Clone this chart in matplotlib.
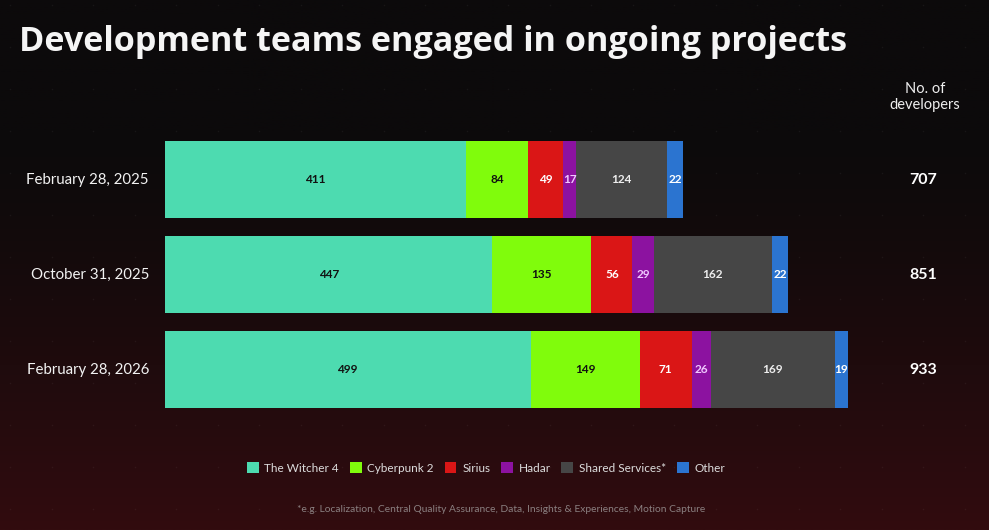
import numpy as np
import matplotlib
matplotlib.use("Agg")
import matplotlib.pyplot as plt
from matplotlib.patches import Patch

plt.rcParams['font.family'] = ['Lato', 'DejaVu Sans']

dates = ["February 28, 2025", "October 31, 2025", "February 28, 2026"]
series = ["The Witcher 4", "Cyberpunk 2", "Sirius", "Hadar", "Shared Services*", "Other"]
witcher4 = [411, 447, 499]
cyberpunk2 = [84, 135, 149]
sirius = [49, 56, 71]
hadar = [17, 29, 26]
shared = [124, 162, 169]
other = [22, 22, 19]
totals = [707, 851, 933]

values = [witcher4, cyberpunk2, sirius, hadar, shared, other]
colors = ["#4ddbb0", "#80fc0c", "#da1616", "#8c12a0", "#464646", "#2b74d0"]
label_colors = ["#111111", "#111111", "#ffffff", "#f0c8ff", "#eeeeee", "#ffffff"]

W, H = 989, 530
fig = plt.figure(figsize=(W / 100, H / 100), dpi=100)

# background gradient
bg = fig.add_axes([0, 0, 1, 1], zorder=-10)
top = np.array([12, 10, 11]) / 255
bot = np.array([50, 12, 15]) / 255
t = np.linspace(0, 1, 256)
w = np.clip((t - 0.25) / 0.75, 0, 1) ** 1.3
grad = (top[None, :] * (1 - w[:, None]) + bot[None, :] * w[:, None])
grad = np.repeat(grad[:, None, :], 2, axis=1)
bg.imshow(grad, aspect='auto', extent=[0, W, H, 0])
gx, gy = np.meshgrid(np.arange(10, W, 41.5), np.arange(5, H, 42))
bg.scatter(gx.ravel(), gy.ravel(), s=1.2, color="#ffffff", alpha=0.05, lw=0)
bg.set_xlim(0, W)
bg.set_ylim(H, 0)
bg.axis('off')

# main axes: x px 165 -> 165 + 1000*0.7325; y px 132 -> 417
px_per_unit = 0.7325
x0 = 165
ax_w = 1000 * px_per_unit
ax = fig.add_axes([x0 / W, 1 - 417 / H, ax_w / W, (417 - 132) / H])
ax.set_xlim(0, 1000)
ax.set_ylim(2.5, -0.5)
ax.axis('off')

ypos = np.arange(len(dates))
left = np.zeros(len(dates))
for vals, c, lc in zip(values, colors, label_colors):
    vals = np.array(vals)
    ax.barh(ypos, vals, left=left, height=0.815, color=c, edgecolor='none')
    for y, l, v in zip(ypos, left, vals):
        ax.text(l + v / 2, y, str(v), ha='center', va='center',
                fontsize=8.5, fontweight='bold', color=lc)
    left = left + vals

for y, d, tot in zip(ypos, dates, totals):
    ax.text(-22, y, d, ha='right', va='center', fontsize=10.8, color='#f2f2f2')
    ax.text(1035, y, str(tot), ha='center', va='center', fontsize=11.5,
            fontweight='bold', color='#ffffff')

fig.text(925 / W, 1 - 97 / H, "No. of\ndevelopers", ha='center', va='center',
         fontsize=10.5, color='#eeeeee', linespacing=1.2)

fig.text(19 / W, 1 - 42 / H, "Development teams engaged in ongoing projects",
         ha='left', va='center', fontsize=24.6, fontweight='bold', color='#f5f5f5',
         family=['Open Sans', 'DejaVu Sans'])

handles = [Patch(facecolor=c, edgecolor='none') for c in colors]
leg = fig.legend(handles, series, loc='center', bbox_to_anchor=(486 / W, 1 - 468 / H),
                 ncol=6, frameon=False, fontsize=8.5, labelcolor='#dddddd',
                 handlelength=1.0, handleheight=1.0, handletextpad=0.5,
                 columnspacing=0.9)

fig.text(501 / W, 1 - 509 / H,
         "*e.g. Localization, Central Quality Assurance, Data, Insights & Experiences, Motion Capture",
         ha='center', va='center', fontsize=7.4, color='#8a7f80')

fig.savefig("out.png", dpi=100)
